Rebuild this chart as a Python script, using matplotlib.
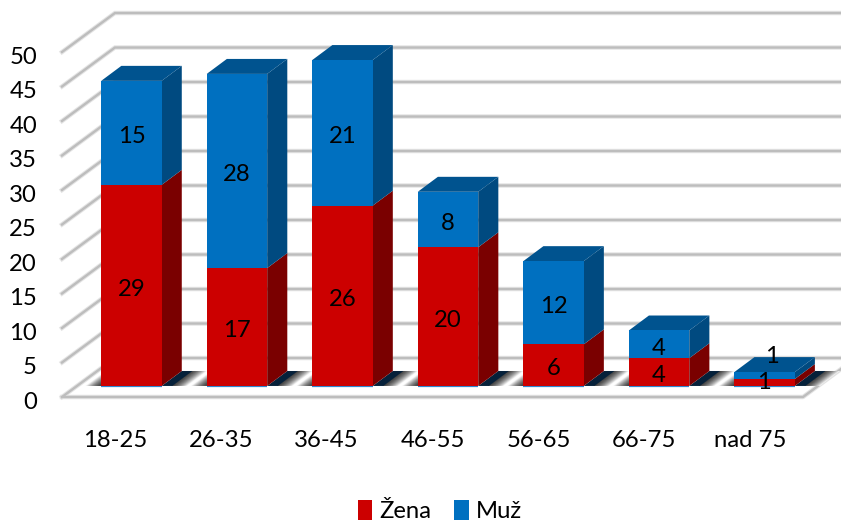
import matplotlib
matplotlib.use("Agg")
import matplotlib.pyplot as plt
from matplotlib.patches import Patch, Polygon
from matplotlib.transforms import ScaledTranslation
import numpy as np

plt.rcParams["font.family"] = ["Lato", "DejaVu Sans"]

# Data
CATEGORIES = ["18-25", "26-35", "36-45", "46-55", "56-65", "66-75", "nad 75"]
ZENA = [29, 17, 26, 20, 6, 4, 1]
MUZ = [15, 28, 21, 8, 12, 4, 1]
Y_TICKS = [0, 5, 10, 15, 20, 25, 30, 35, 40, 45, 50]

# Colours
RED = "#CC0000"
RED_SIDE = "#7A0000"
BLUE = "#0070C0"
BLUE_SIDE = "#004A80"
BLUE_TOP = "#00538F"
GRID = "#BDBDBD"

# 3D look, in data units
WALL_DX = 0.5
WALL_DY = 5.65
BAR_DX = 0.19
BAR_DY = 2.17
BAR_SHIFT = 0.156
BAR_STEP = 0.9968
BAR_WIDTH = 0.571
BAR_BASE = 1.6
BAR_SCALE = 1.005
FONT_SIZE = 17.2
LABEL_DROP = 0.55


def poly(ax, points, color, zorder=3, alpha=1.0):
    ax.add_patch(Polygon(points, closed=True, facecolor=color, edgecolor="none",
                         alpha=alpha, zorder=zorder, clip_on=False))


def draw_walls(ax):
    for value in Y_TICKS:
        xs = [-0.5, -0.5 + WALL_DX, 6.5 + WALL_DX]
        ys = [value, value + WALL_DY, value + WALL_DY]
        ax.plot(xs, ys, color="#E4E4E4", lw=3.2, zorder=1, clip_on=False,
                solid_joinstyle="miter")
        ax.plot(xs, ys, color=GRID, lw=1.7, zorder=1.1, clip_on=False,
                solid_joinstyle="miter")
    # floor front edge and right edge
    xs = [-0.5, 6.5, 6.5 + WALL_DX]
    ys = [0, 0, WALL_DY]
    ax.plot(xs, ys, color="#E4E4E4", lw=3.2, zorder=1, clip_on=False)
    ax.plot(xs, ys, color=GRID, lw=1.7, zorder=1.1, clip_on=False)


def draw_shadow(ax, left, right):
    steps = 16
    fade = 0.15
    y0, y1 = BAR_BASE, BAR_BASE + BAR_DY
    edges = np.linspace(0, 1, steps + 1)
    # white band first, it hides the grid line of the back wall under the shadow
    poly(ax, [(left - fade, y0), (right + 0.09 + fade, y0),
              (right + 0.09 + fade + BAR_DX, y1), (left - fade + BAR_DX, y1)],
         "white", zorder=1.5)
    for a, b in zip(edges[:-1], edges[1:]):
        alpha = 1 - ((a + b) / 2) ** 1.2
        # left side
        xa, xb = left - a * fade, left - b * fade
        poly(ax, [(xa, y0), (xb, y0), (xb + BAR_DX, y1), (xa + BAR_DX, y1)],
             "black", zorder=2, alpha=alpha)
        # right side
        xa, xb = right + 0.09 + a * fade, right + 0.09 + b * fade
        poly(ax, [(xa, y0), (xb, y0), (xb + BAR_DX, y1), (xa + BAR_DX, y1)],
             "black", zorder=2, alpha=alpha)
    poly(ax, [(right, y0), (right + 0.1, y0), (right + BAR_DX + 0.1, y1),
              (right + BAR_DX, y1)], "#06213A", zorder=2.1)


def draw_segment(ax, left, right, low, high, front, side):
    poly(ax, [(right, low), (right + BAR_DX, low + BAR_DY),
              (right + BAR_DX, high + BAR_DY), (right, high)], side)
    poly(ax, [(left, low), (right, low), (right, high), (left, high)], front,
         zorder=3.2)


def draw_bars(ax):
    for i, (zena, muz) in enumerate(zip(ZENA, MUZ)):
        left = i * BAR_STEP + BAR_SHIFT - BAR_WIDTH / 2
        right = left + BAR_WIDTH
        mid = BAR_BASE + zena * BAR_SCALE
        top = mid + muz * BAR_SCALE
        draw_shadow(ax, left, right)
        draw_segment(ax, left, right, BAR_BASE, mid, RED, RED_SIDE)
        draw_segment(ax, left, right, mid, top, BLUE, BLUE_SIDE)
        poly(ax, [(left, top), (right, top), (right + BAR_DX, top + BAR_DY),
                  (left + BAR_DX, top + BAR_DY)], BLUE_TOP)
        # thin light edge under the front face
        ax.plot([left, right], [BAR_BASE - 0.05, BAR_BASE - 0.05], color="#2F86CF",
                lw=1.6, zorder=3.1, solid_capstyle="butt")

        # value labels
        x = left + BAR_WIDTH / 2
        lift = -LABEL_DROP if zena > 1 else 0.0
        ax.text(x - (0 if zena > 1 else 0.01), (BAR_BASE + mid) / 2 + lift, str(zena),
                ha="center", va="center", fontsize=FONT_SIZE, color="black", zorder=5)
        if muz > 1:
            ax.text(x, (mid + top) / 2 - LABEL_DROP, str(muz), ha="center", va="center",
                    fontsize=FONT_SIZE, color="black", zorder=5)
        else:
            # the last small bar has its label pushed up and back
            ax.text(x + 0.07, (mid + top) / 2 + 2.7, str(muz), ha="center", va="center",
                    fontsize=FONT_SIZE, color="black", zorder=5)


fig = plt.figure(figsize=(8.41, 5.22), dpi=100)
ax = fig.add_axes([62 / 841, 1 - 397 / 522, 741 / 841, 345 / 522])
ax.set_xlim(-0.5, 6.5)
ax.set_ylim(0, 50)

draw_walls(ax)
draw_bars(ax)

ax.set_xticks(range(len(CATEGORIES)))
ax.set_xticklabels(CATEGORIES)
ax.set_yticks(Y_TICKS)
ax.tick_params(axis="x", length=0, pad=24, labelsize=FONT_SIZE)
ax.tick_params(axis="y", length=0, pad=18, labelsize=FONT_SIZE)
# y labels sit a little under their grid lines
drop = ScaledTranslation(0, -2.2 / 72, fig.dpi_scale_trans)
for label in ax.get_yticklabels():
    label.set_transform(label.get_transform() + drop)
for spine in ax.spines.values():
    spine.set_visible(False)
ax.patch.set_visible(False)

handles = [Patch(facecolor=RED, label="Žena"), Patch(facecolor=BLUE, label="Muž")]
fig.legend(handles=handles, loc="center", bbox_to_anchor=(440 / 841, 1 - 511 / 522),
           ncol=2, frameon=False, fontsize=FONT_SIZE, handlelength=0.62, handleheight=0.95,
           handletextpad=0.3, columnspacing=0.95, borderpad=0)

fig.savefig("out.png", dpi=100)
